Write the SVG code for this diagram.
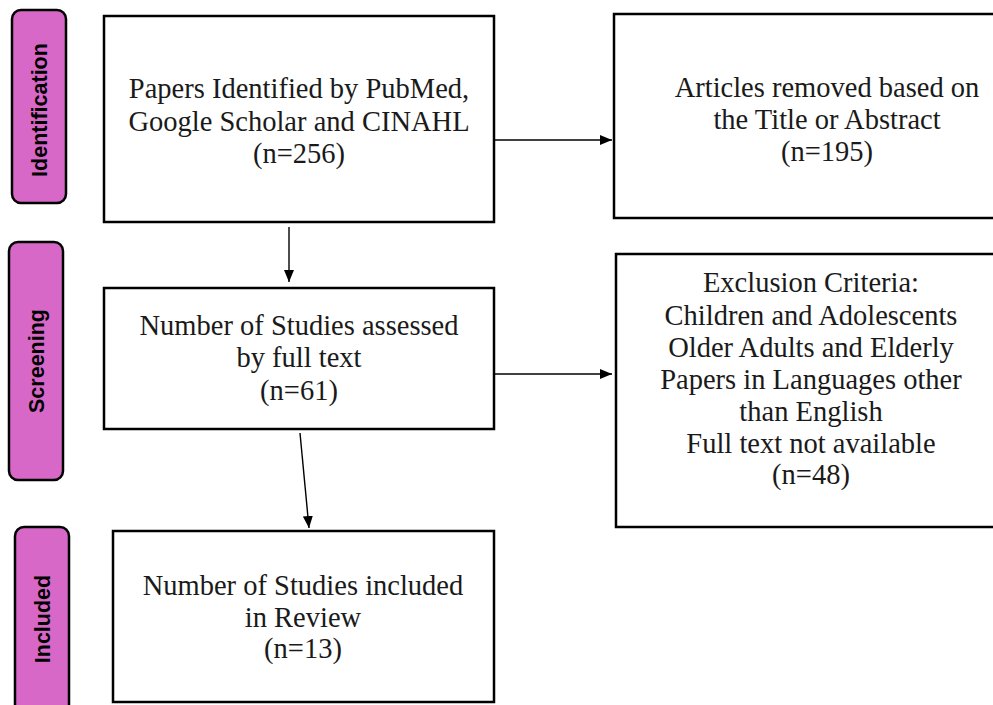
<svg xmlns="http://www.w3.org/2000/svg" width="993" height="705" viewBox="0 0 993 705">
<style>
.pill{fill:#D868C8;stroke:#000;stroke-width:2.5}
.box{fill:#fff;stroke:#000;stroke-width:2.5}
.lbl{font-family:"Liberation Sans",Arial,sans-serif;font-weight:bold;font-size:21.5px;fill:#000;text-anchor:middle;dominant-baseline:central}
.t{font-family:"Liberation Serif","Times New Roman",serif;font-size:28.5px;fill:#1a1a1a;text-anchor:middle}
.c{stroke:#000;stroke-width:1.4;fill:none;marker-end:url(#ah)}
</style>
<defs>
<marker id="ah" markerWidth="12" markerHeight="10" refX="12" refY="5" orient="auto" markerUnits="userSpaceOnUse">
<path d="M0,0 L12,5 L0,10 Z" fill="#000"/>
</marker>
</defs>
<rect width="993" height="705" fill="#fff"/>
<g id="stage-identification"><rect class="pill" x="12" y="10" width="54" height="193" rx="9"/><text class="lbl" transform="translate(40,110) rotate(-90)">Identification</text></g>
<g id="stage-screening"><rect class="pill" x="9" y="242" width="54" height="238" rx="9"/><text class="lbl" transform="translate(37,361) rotate(-90)">Screening</text></g>
<g id="stage-included"><rect class="pill" x="15" y="527" width="54" height="190" rx="9"/><text class="lbl" transform="translate(43,619) rotate(-90)">Included</text></g>
<g id="identified"><rect class="box" x="104" y="16" width="390" height="206"/>
<text class="t" x="299" y="98">Papers Identified by PubMed,</text>
<text class="t" x="299" y="131">Google Scholar and CINAHL</text>
<text class="t" x="299" y="163">(n=256)</text></g>
<g id="removed"><rect class="box" x="614" y="14" width="390" height="204"/>
<text class="t" x="827" y="97">Articles removed based on</text>
<text class="t" x="827" y="129">the Title or Abstract</text>
<text class="t" x="827" y="161">(n=195)</text></g>
<g id="assessed"><rect class="box" x="104" y="288" width="390" height="141"/>
<text class="t" x="299" y="335">Number of Studies assessed</text>
<text class="t" x="299" y="367">by full text</text>
<text class="t" x="299" y="400">(n=61)</text></g>
<g id="excluded"><rect class="box" x="616" y="254" width="390" height="273"/>
<text class="t" x="811" y="292">Exclusion Criteria:</text>
<text class="t" x="811" y="325">Children and Adolescents</text>
<text class="t" x="811" y="357">Older Adults and Elderly</text>
<text class="t" x="811" y="389">Papers in Languages other</text>
<text class="t" x="811" y="421">than English</text>
<text class="t" x="811" y="453">Full text not available</text>
<text class="t" x="811" y="484">(n=48)</text></g>
<g id="included"><rect class="box" x="113" y="531" width="381" height="171"/>
<text class="t" x="303" y="595">Number of Studies included</text>
<text class="t" x="303" y="627">in Review</text>
<text class="t" x="303" y="658">(n=13)</text></g>
<g id="connectors">
<line class="c" x1="495" y1="140" x2="612" y2="140"/>
<line class="c" x1="289" y1="227" x2="289" y2="282"/>
<line class="c" x1="495" y1="374" x2="612" y2="374"/>
<line class="c" x1="300" y1="433" x2="309" y2="528"/>
</g>
</svg>
